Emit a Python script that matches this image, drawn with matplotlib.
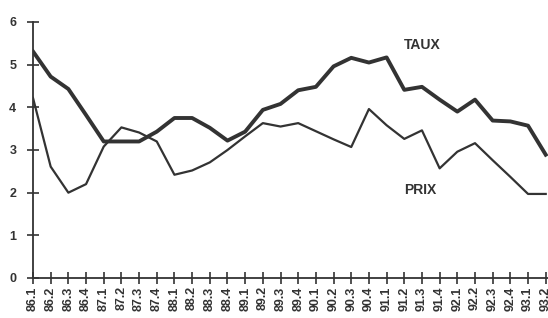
import matplotlib.pyplot as plt
import numpy as np

plt.rcParams['font.family'] = ['Liberation Sans', 'DejaVu Sans']

# trimestres 86.1 ... 93.2
periods = ['86.1', '86.2', '86.3', '86.4', '87.1', '87.2', '87.3', '87.4',
           '88.1', '88.2', '88.3', '88.4', '89.1', '89.2', '89.3', '89.4',
           '90.1', '90.2', '90.3', '90.4', '91.1', '91.2', '91.3', '91.4',
           '92.1', '92.2', '92.3', '92.4', '93.1', '93.2']

taux = [5.31, 4.72, 4.43, 3.82, 3.2, 3.2, 3.2, 3.43, 3.75, 3.75,
        3.52, 3.22, 3.43, 3.94, 4.08, 4.40, 4.48, 4.96, 5.16, 5.05,
        5.17, 4.41, 4.48, 4.18, 3.90, 4.18, 3.69, 3.67, 3.57, 2.89]

prix = [4.22, 2.61, 2.0, 2.2, 3.08, 3.53, 3.41, 3.2, 2.42, 2.52,
        2.71, 3.0, 3.32, 3.63, 3.55, 3.63, 3.44, 3.25, 3.07, 3.96,
        3.58, 3.26, 3.46, 2.57, 2.96, 3.16, 2.76, 2.37, 1.97, 1.97]

x = np.arange(len(periods))
col = '#333333'

fig = plt.figure(figsize=(5.48, 3.18), dpi=100)
ax = fig.add_axes([33/548, 40/318, 515/548, 256/318])

ax.plot(x, taux, color=col, lw=2.8, solid_joinstyle='round')
ax.plot(x, prix, color=col, lw=1.6, solid_joinstyle='round')

ax.text(21.0, 5.47, 'TAUX', fontsize=10, fontweight='bold', color=col,
        va='center', ha='left')
ax.text(21.0, 2.07, 'PRIX', fontsize=10, fontweight='bold', color=col,
        va='center', ha='left')

ax.set_xlim(0, 515/17.68)
ax.set_ylim(0, 6)
ax.set_yticks(range(7))
ax.set_xticks(x)
ax.set_xticklabels(periods, rotation=90, fontsize=9, fontweight='bold', color=col)
for lab in ax.get_yticklabels():
    lab.set_fontsize(9)
    lab.set_fontweight('bold')
    lab.set_color(col)

ax.spines['top'].set_visible(False)
ax.spines['right'].set_visible(False)
for s in ['left', 'bottom']:
    ax.spines[s].set_linewidth(1.3)
    ax.spines[s].set_color(col)
ax.tick_params(direction='inout', length=8, width=1.2, color=col)
ax.tick_params(axis='x', pad=2)
ax.tick_params(axis='y', pad=8)

fig.savefig('out.png', dpi=100)
